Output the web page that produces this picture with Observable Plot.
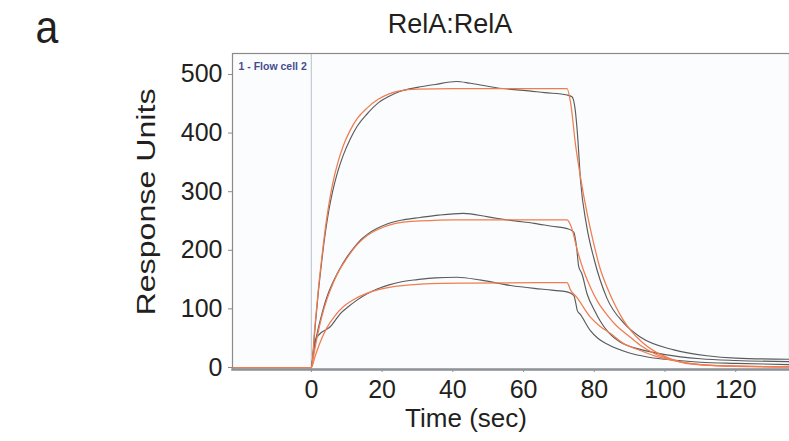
<!DOCTYPE html>
<html>
<head>
<meta charset="utf-8">
<script src="https://cdn.jsdelivr.net/npm/d3@7"></script>
<script src="https://cdn.jsdelivr.net/npm/@observablehq/plot@0.6"></script>
<style>
  body { margin: 0; background: #ffffff; }
  #wrap { position: relative; width: 789px; height: 441px; overflow: hidden; background: #fff; }
</style>
</head>
<body>
<div id="wrap"></div>
<script>
// ---- Data (time in sec, response in RU) ----
const panelLabel = "a";
const chartTitle = "RelA:RelA";
const xLabel = "Time (sec)";
const yLabel = "Response Units";
const flowCellLabel = "1 - Flow cell 2";

const xTicks = [0, 20, 40, 60, 80, 100, 120];
const yTicks = [0, 100, 200, 300, 400, 500];

// measured sensorgrams (dark gray)
const dataHigh = [[-22.3,0],[0,0],[1,65],[2,130],[3,185],[4,232],[5,270],[6,300],[7.5,335],[9,362],[11,390],[13,412],[15.8,433],[19,452],[22,463],[25,471],[30,478],[35,483],[41,488],[45,485],[54,476],[60,473],[66,469],[72.3,465],[73.7,462],[74.6,440],[75.3,394],[76.1,320],[77.8,243],[79.9,186],[83.6,118],[88.3,76],[93,52],[102.5,30],[111.9,20],[120,16],[135.2,14]];
const dataMid = [[-22.3,0],[0,0],[0.5,22],[1,40],[2,68],[3,92],[4,113],[5,130],[6.3,148],[8,168],[10,188],[12,204],[14,218],[16,228],[18.5,237],[21.4,245],[26,252],[30.8,256],[36,260],[43,263],[50,257],[56.3,251],[63,246],[68,241],[72.3,237],[74.2,231],[75,205],[75.6,172],[76.5,160],[78,125],[80,98],[81.8,78],[84,60],[87.4,43],[93,31],[100,22],[110,15],[120,12],[135.2,10]];
const dataLow = [[-22.3,0],[0,0],[0.5,25],[1.1,46],[2.5,58],[4,64],[5.4,70],[6.8,81],[8.2,92],[10.5,104],[12.9,115],[15.5,125],[18.6,134],[22,141],[25.2,146],[30,150],[35,153],[41.2,154],[48,149],[56.3,140],[63,135],[68,132],[72.3,129],[74.2,123],[74.7,112],[75.2,97],[76,91],[78.9,63],[81,50],[83.6,40],[89.3,26],[95,18],[100,14],[110,9],[120,7],[135.2,5]];

// 1:1 fits (orange)
const fitHigh = [[-22.3,0],[0,0],[1,70],[2,135],[3,190],[4,240],[5,280],[6,313],[7.5,350],[9,378],[11,405],[13,425],[15.8,443],[19,458],[22,467],[25,472],[30,475],[40,476],[72.3,476],[73.3,452],[74.7,380],[76.1,325],[78,262],[79.9,210],[81.5,172],[83.6,137],[86,105],[88.3,80],[93,46],[97.8,25],[102,14],[107,6],[115,3],[135.2,1]];
const fitMid = [[-22.3,0],[0,0],[0.5,15],[1.5,48],[3,88],[4.5,118],[6.3,146],[8,167],[10,186],[12,203],[14,216],[16,226],[19,236],[22,243],[26,248],[30.8,250],[40,252],[72.3,252],[73.5,240],[75.2,200],[77,165],[78.9,137],[81,112],[83.6,90],[86.5,70],[89.3,56],[93,38],[97,24],[102,13],[108,6],[115,3],[135.2,1]];
const fitLow = [[-22.3,0],[0,0],[1,18],[2.5,43],[4.4,68],[6.5,87],[9.1,104],[12,116],[15.8,127],[19,133],[23.3,138],[28,141],[33.7,143],[45,144],[72.3,145],[73.3,132],[75,120],[78.9,86],[81.5,71],[84.6,58],[88,42],[93,29],[98,18],[104,10],[110,5],[120,2],[135.2,1]];

const grayColor = "#5a5b5c";
const fitColor = "#f07c50";

const dataSeries = [dataHigh, dataMid, dataLow];
const fitSeries = [fitHigh, fitMid, fitLow];

const lineMarks = [];
for (const s of dataSeries) {
  lineMarks.push(Plot.line(s, {x: d => d[0], y: d => d[1], stroke: grayColor, strokeWidth: 1.15, curve: "monotone-x"}));
}
for (const s of fitSeries) {
  lineMarks.push(Plot.line(s, {x: d => d[0], y: d => d[1], stroke: fitColor, strokeWidth: 1.25, curve: "monotone-x"}));
}

const chart = Plot.plot({
  width: 789,
  height: 441,
  marginLeft: 232,
  marginRight: 0,
  marginTop: 53,
  marginBottom: 72,
  x: {domain: [-22.3, 135.2]},
  y: {domain: [-3.4, 535.8]},
  style: {fontFamily: "'Liberation Sans', Arial, sans-serif", background: "#ffffff", color: "#231f20"},
  marks: [
    Plot.frame({fill: "#fbfcfe", stroke: "none"}),
    Plot.ruleX([0], {stroke: "#c8ccd4", strokeWidth: 1.3}),
    ...lineMarks,
    Plot.frame({stroke: "#8d8986", strokeWidth: 1.2}),
    Plot.frame({anchor: "bottom", stroke: "#8e9297", strokeWidth: 2.5}),
    Plot.axisY({ticks: yTicks, tickSize: 4, tickPadding: 6, fontSize: 25, label: null, stroke: "#8d8986", fill: "#231f20", tickFormat: d => String(d)}),
    Plot.axisX({ticks: xTicks, tickSize: 3, tickPadding: 8, fontSize: 25, label: null, stroke: "#8e9297", fill: "#231f20", tickFormat: d => String(d)}),
    Plot.text([flowCellLabel], {frameAnchor: "top-left", dx: 6, dy: 9, fontSize: 10.5, fontWeight: "bold", fill: "#474b8e", textAnchor: "start"})
  ]
});

document.getElementById("wrap").appendChild(chart);

const svg = d3.select(chart);
const font = "'Liberation Sans', Arial, sans-serif";
svg.append("text").text(panelLabel)
  .attr("transform", "translate(47,43) scale(1,1.12)")
  .attr("text-anchor", "middle")
  .attr("font-family", font).attr("font-size", 41).attr("fill", "#231f20");
svg.append("text").text(chartTitle)
  .attr("x", 450).attr("y", 33).attr("text-anchor", "middle")
  .attr("font-family", font).attr("font-size", 27).attr("fill", "#231f20");
svg.append("text").text(xLabel)
  .attr("x", 466).attr("y", 427).attr("text-anchor", "middle")
  .attr("font-family", font).attr("font-size", 26).attr("fill", "#231f20");
svg.append("text").text(yLabel)
  .attr("transform", "translate(155,202) rotate(-90)")
  .attr("text-anchor", "middle")
  .attr("textLength", 227).attr("lengthAdjust", "spacingAndGlyphs")
  .attr("font-family", font).attr("font-size", 26).attr("fill", "#231f20");
</script>
</body>
</html>
